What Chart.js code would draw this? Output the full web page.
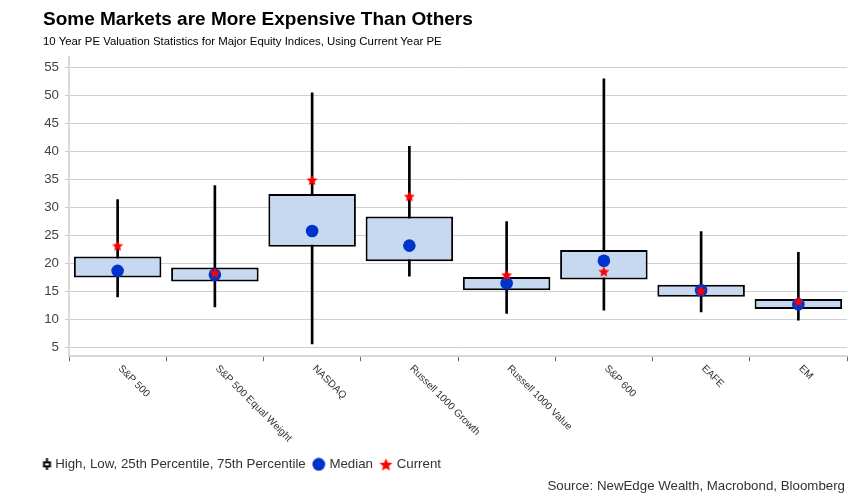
<!DOCTYPE html>
<html><head><meta charset="utf-8">
<script src="https://cdn.jsdelivr.net/npm/chart.js@4.4.1/dist/chart.umd.min.js"></script>
<style>
html,body{margin:0;padding:0;background:#fff;}
#wrap{position:relative;width:865px;height:501px;overflow:hidden;font-family:"Liberation Sans",Arial,sans-serif;}
#c{position:absolute;left:0;top:0;}
#title{position:absolute;left:43px;top:8px;font-size:19px;font-weight:bold;color:#000;white-space:nowrap;}
#sub{position:absolute;left:43px;top:35px;font-size:11.4px;color:#000;white-space:nowrap;}
#src{position:absolute;right:20px;top:478px;font-size:13.3px;color:#333;white-space:nowrap;}
</style></head><body>
<div id="wrap">
<canvas id="c" width="865" height="501" style="width:865px;height:501px"></canvas>
<div id="title">Some Markets are More Expensive Than Others</div>
<div id="sub">10 Year PE Valuation Statistics for Major Equity Indices, Using Current Year PE</div>
<div id="src">Source: NewEdge Wealth, Macrobond, Bloomberg</div>
</div>
<script>
const categories = ["S&P 500","S&P 500 Equal Weight","NASDAQ","Russell 1000 Growth","Russell 1000 Value","S&P 600","EAFE","EM"];
const highValues   = [31.4, 33.9, 50.4, 40.9, 27.5, 52.9, 25.7, 22.0];
const p75Values    = [21.25, 19.3, 32.4, 28.4, 17.6, 22.4, 16.25, 13.7];
const medianValues = [18.7, 18.0, 25.8, 23.2, 16.5, 20.5, 15.25, 12.75];
const p25Values    = [17.5, 16.8, 23.0, 20.4, 15.25, 17.15, 14.1, 11.9];
const lowValues    = [14.05, 12.3, 5.7, 17.75, 11.1, 11.7, 11.4, 9.9];
const currentValues= [23.2, 18.4, 34.9, 32.0, 18.0, 18.6, 15.2, 13.3];
const yTickValues  = [5,10,15,20,25,30,35,40,45,50,55];

function starCanvas(size, outer, inner, color){
  const c = document.createElement('canvas'); c.width = size; c.height = size;
  const g = c.getContext('2d'); g.fillStyle = color; g.beginPath();
  const cx = size/2, cy = size/2 + outer*0.1;
  for(let i=0;i<10;i++){
    const r = i%2===0 ? outer : inner;
    const a = -Math.PI/2 + i*Math.PI/5;
    const x = cx + r*Math.cos(a), y = cy + r*Math.sin(a);
    if(i===0) g.moveTo(x,y); else g.lineTo(x,y);
  }
  g.closePath(); g.fill(); return c;
}
function circleCanvas(size, r, color){
  const c = document.createElement('canvas'); c.width = size; c.height = size;
  const g = c.getContext('2d'); g.fillStyle = color; g.beginPath();
  g.arc(size/2, size/2, r, 0, Math.PI*2); g.fill(); return c;
}
function whiskerCanvas(){
  const c = document.createElement('canvas'); c.width = 16; c.height = 12;
  const g = c.getContext('2d');
  const cx = 10.5;
  g.fillStyle = '#000'; g.fillRect(cx-1, 0, 2, 12);
  g.fillRect(cx-4, 3, 8, 6);
  g.fillStyle = '#fff'; g.fillRect(cx-2, 5, 4, 2);
  return c;
}
const chartStar = starCanvas(12, 5.7, 2.7, '#ff0000');
const legendStar = starCanvas(15, 6.8, 3.1, '#ff0000');
const legendCircle = circleCanvas(14, 6.4, '#0033cc');
const legendWhisker = whiskerCanvas();

const xLabelPlugin = {
  id: 'xLabels',
  afterDraw(chart){
    const ctx = chart.ctx, xs = chart.scales.x;
    ctx.save();
    ctx.font = '10.2px "Liberation Sans", Arial, sans-serif';
    ctx.fillStyle = '#333';
    ctx.textAlign = 'left'; ctx.textBaseline = 'middle';
    categories.forEach((lab,i)=>{
      const x = xs.getPixelForValue(i);
      ctx.save();
      ctx.translate(x + 2, 367);
      ctx.rotate(Math.PI/4);
      ctx.fillText(lab, 0, 0);
      ctx.restore();
    });
    ctx.restore();
  }
};

new Chart(document.getElementById('c'), {
  type: 'bar',
  data: {
    labels: categories,
    datasets: [
      { label: 'Whisker', data: lowValues.map((v,i)=>[v, highValues[i]]), backgroundColor: '#000', borderWidth: 0,
        barThickness: 2, grouped: false, order: 4 },
      { label: 'High, Low, 25th Percentile, 75th Percentile', data: p25Values.map((v,i)=>[v, p75Values[i]]),
        backgroundColor: '#c6d9f1', borderColor: '#000', borderWidth: 2, borderSkipped: false,
        barPercentage: 0.9, categoryPercentage: 1, grouped: false, order: 3 },
      { type: 'line', label: 'Median', data: medianValues, showLine: false, pointRadius: 6.3, pointBorderWidth: 0,
        pointBackgroundColor: '#0033cc', pointStyle: 'circle', order: 2 },
      { type: 'line', label: 'Current', data: currentValues, showLine: false, pointRadius: 6, pointBorderWidth: 0,
        pointStyle: chartStar, pointBackgroundColor: '#ff0000', order: 1 }
    ]
  },
  options: {
    responsive: false,
    animation: false,
    layout: { padding: { left: 31.5, right: 18, top: 57, bottom: 20 } },
    plugins: {
      tooltip: { enabled: false },
      legend: {
        position: 'bottom', align: 'start',
        labels: {
          usePointStyle: true, pointStyleWidth: 8, padding: 9, color: '#333',
          font: { size: 13.3, family: '"Liberation Sans", Arial, sans-serif' },
          generateLabels: () => [
            { text: 'High, Low, 25th Percentile, 75th Percentile', pointStyle: legendWhisker, fillStyle: '#000', strokeStyle: '#000', lineWidth: 0, hidden: false, datasetIndex: 1, fontColor: '#333' },
            { text: 'Median', pointStyle: legendCircle, fillStyle: '#0033cc', strokeStyle: '#0033cc', lineWidth: 0, hidden: false, datasetIndex: 2, fontColor: '#333' },
            { text: 'Current', pointStyle: legendStar, fillStyle: '#f00', strokeStyle: '#f00', lineWidth: 0, hidden: false, datasetIndex: 3, fontColor: '#333' }
          ]
        }
      }
    },
    scales: {
      x: {
        offset: true,
        grid: { display: true, drawOnChartArea: false, offset: true, tickLength: 5, color: '#666', lineWidth: 1 },
        border: { display: true, color: '#d9d9d9', width: 2 },
        ticks: { display: false },
        afterFit(scale){ scale.height = 92.5; }
      },
      y: {
        min: 3.5, max: 56.8,
        afterBuildTicks(scale){ scale.ticks = yTickValues.map(v=>({value:v})); },
        grid: { color: '#d0d0d0', lineWidth: 1, tickLength: 4 },
        border: { display: true, color: '#d9d9d9', width: 2 },
        ticks: { color: '#444', padding: 6, font: { size: 13.3, family: '"Liberation Sans", Arial, sans-serif' } },
        afterFit(scale){ scale.width = 37.5; }
      }
    }
  },
  plugins: [xLabelPlugin]
});
</script>
</body></html>
